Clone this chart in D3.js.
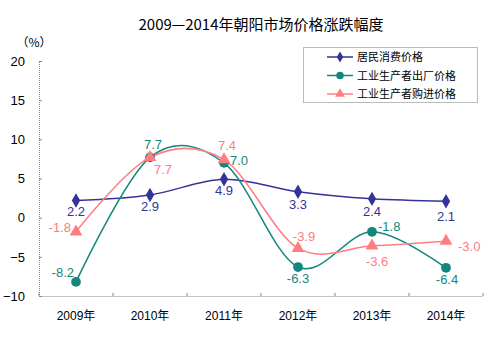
<!DOCTYPE html>
<html><head><meta charset="utf-8">
<script src="https://cdn.jsdelivr.net/npm/d3@7"></script>
<style>body{margin:0;background:#fff}text{font-family:"Liberation Sans",Arial,sans-serif}</style>
</head><body>
<svg id="c" width="495" height="337"></svg>
<script>
const categories = ["2009年","2010年","2011年","2012年","2013年","2014年"];
const cpi = [2.2, 2.9, 4.9, 3.3, 2.4, 2.1];
const ppiOut = [-8.2, 7.7, 7.0, -6.3, -1.8, -6.4];
const ppiIn = [-1.8, 7.7, 7.4, -3.9, -3.6, -3.0];
const yTicks = [-10, -5, 0, 5, 10, 15, 20];
const seriesNames = ["居民消费价格", "工业生产者出厂价格", "工业生产者购进价格"];
const title = "2009—2014年朝阳市场价格涨跌幅度";

// label placement per point (style): [dx, dy, anchor]
const labelPos = [
  [[0,16,"middle"],[0,16,"middle"],[0,16,"middle"],[0,17,"middle"],[0,17,"middle"],[0,20,"middle"]],
  [[-2,-5,"end"],[3,-8,"middle"],[6,2,"start"],[0,16,"middle"],[6,-1,"start"],[1,16,"middle"]],
  [[-5,0,"end"],[13,17,"middle"],[3,-10,"middle"],[6,-7,"middle"],[5,20,"middle"],[12,10,"start"]]
];
const colors = ["#333399", "#13877d", "#ff7c80"];
const markers = [d3.symbolDiamond, d3.symbolCircle, d3.symbolTriangle];
const markerSize = [60, 75, 70];

const svg = d3.select("#c");
const x = d3.scaleBand().domain(categories).range([39, 483]);
const y = d3.scaleLinear().domain([-10, 20]).range([296, 61]);
const cx = d => x(d) + x.bandwidth()/2;

svg.append("text").attr("x", 261).attr("y", 30).attr("text-anchor","middle")
  .style("font-family","'Noto Sans CJK SC',sans-serif").style("font-size","15px").attr("fill","#000").text(title);
svg.append("text").attr("x", 34).attr("y", 47).attr("text-anchor","middle")
  .style("font-family","'Noto Sans CJK SC',sans-serif").style("font-size","12px").text("（%）");

// y axis
const ya = svg.append("g").attr("transform","translate(39,0)")
  .call(d3.axisRight(y).tickValues(yTicks).tickSize(3).tickFormat(d3.format("d")));
ya.select(".domain").attr("stroke","#888").attr("stroke-dasharray","1,1");
ya.selectAll(".tick line").attr("stroke","#888");
ya.selectAll(".tick text").attr("x",-14).attr("text-anchor","end").style("font-size","13px").attr("fill","#000");

// x axis
const xa = svg.append("g").attr("transform","translate(0,296)")
  .call(d3.axisTop(x).tickSize(0).tickFormat(""));
xa.select(".domain").attr("stroke","#888").attr("stroke-dasharray","1,1");
xa.selectAll(".sep").data(d3.range(categories.length+1)).enter().append("line")
  .attr("x1", i => 39 + i*x.bandwidth()).attr("x2", i => 39 + i*x.bandwidth())
  .attr("y1", 0).attr("y2", -3).attr("stroke","#888");
svg.selectAll(".xl").data(categories).enter().append("text")
  .attr("x", d => cx(d)).attr("y", 320).attr("text-anchor","middle")
  .style("font-size","12px").text(d => d.replace("年","")).append("tspan")
  .style("font-family","'Noto Sans CJK SC',sans-serif").text("年");

const all = [cpi, ppiOut, ppiIn];
const line = d3.line().x((d,i) => cx(categories[i])).y(d => y(d)).curve(d3.curveCardinal.tension(0));
all.forEach((vals, s) => {
  svg.append("path").datum(vals).attr("d", line).attr("fill","none")
    .attr("stroke", colors[s]).attr("stroke-width", 1.5);
});
all.forEach((vals, s) => {
  svg.selectAll(".m"+s).data(vals).enter().append("path")
    .attr("transform", (d,i) => `translate(${cx(categories[i])},${y(d)})`)
    .attr("d", d3.symbol().type(markers[s]).size(markerSize[s])).attr("fill", colors[s]);
});
all.forEach((vals, s) => {
  svg.selectAll(".l"+s).data(vals).enter().append("text")
    .attr("x", (d,i) => cx(categories[i]) + labelPos[s][i][0])
    .attr("y", (d,i) => y(d) + labelPos[s][i][1])
    .attr("text-anchor", (d,i) => labelPos[s][i][2])
    .style("font-size","13px").attr("fill", colors[s]).text(d => d.toFixed(1));
});

// legend
const lg = svg.append("g");
lg.append("rect").attr("x",303.5).attr("y",47.5).attr("width",174).attr("height",55)
  .attr("fill","#fff").attr("stroke","#777").attr("stroke-dasharray","1,1");
seriesNames.forEach((n, s) => {
  const yy = 57 + s*18.5;
  lg.append("line").attr("x1",327).attr("x2",353).attr("y1",yy).attr("y2",yy).attr("stroke",colors[s]).attr("stroke-width",1.5);
  lg.append("path").attr("transform",`translate(340,${yy})`).attr("d", d3.symbol().type(markers[s]).size(markerSize[s]*0.6)).attr("fill",colors[s]);
  lg.append("text").attr("x",357).attr("y",yy+4).style("font-family","'Noto Sans CJK SC',sans-serif").style("font-size","11px").text(n);
});
</script>
</body></html>
